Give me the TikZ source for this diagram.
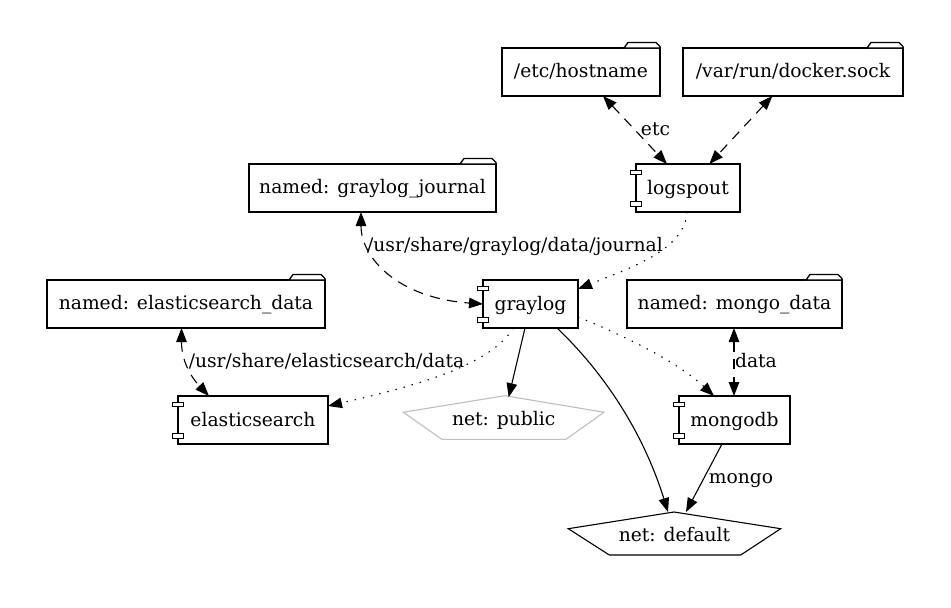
\documentclass[tikz,border=0pt]{standalone}
\usepackage{fontspec}
\setmainfont{DejaVu Serif}
\usetikzlibrary{arrows.meta,calc}
\tikzset{
  x=1pt,y=-1pt,
  txt/.style={inner sep=0pt,outer sep=0pt,text height=12pt,text depth=2pt,font=\fontsize{18.7}{21}\selectfont},
  vol/.style={txt,draw=black,line width=1.33pt,fill=white,line join=miter},
  comp/.style={txt,text height=14pt,draw=black,line width=1.33pt,fill=white},
  lbl/.style={inner sep=0pt,outer sep=0pt,anchor=base,font=\fontsize{18.7}{21}\selectfont},
  edge/.style={line width=1.1pt},
  both/.style={{Triangle[length=14pt,width=10.5pt]}-{Triangle[length=14pt,width=10.5pt]}},
  to/.style={-{Triangle[length=14pt,width=10.5pt]}},
  dash1/.style={dash pattern=on 10pt off 7.5pt},
  dot1/.style={dash pattern=on 1.4pt off 7pt},
  port/.style={draw=black,line width=1pt,fill=white},
}
\newcommand{\volnode}[6]{% name, left, right, top, bottom, text
  \node[vol,minimum width={#3-#2},minimum height={#5-#4}] (#1) at ({(#2+#3)/2},{(#4+#5)/2}) {#6};
  \draw[line width=1.33pt,fill=white,line join=round]
    ($(#1.north east)+(-36,0)$) -- ++(4,-5.5) -- ($(#1.north east)+(-4,-5.5)$) -- ($(#1.north east)+(0,-1.5)$) -- (#1.north east) -- cycle;
}
\newcommand{\compnode}[6]{%
  \node[comp,minimum width={#3-#2},minimum height={#5-#4}] (#1) at ({(#2+#3)/2},{(#4+#5)/2}) {#6};
  \draw[port] ($(#1.north west)+(-5.5,6)$) rectangle ++(11,4.8);
  \draw[port] ($(#1.south west)+(-5.5,-10.8)$) rectangle ++(11,4.8);
}
\newcommand{\netnode}[6]{% name,left,right,top,bottom,text
  \node[txt,text height=14pt,minimum width={#3-#2},minimum height={#5-#4}] (#1) at ({(#2+#3)/2},{(#4+#5)/2+1.5}) {#6};
}
\begin{document}
\begin{tikzpicture}
\useasboundingbox (0,0) rectangle (951,608);
\fill[white] (0,0) rectangle (951,608);

\volnode{host}{502}{660}{48}{96}{/etc/hostname}
\volnode{sock}{683}{903}{48}{96}{/var/run/docker.sock}
\volnode{journal}{249}{496}{164}{212}{named: graylog\_journal}
\volnode{esdata}{47}{325}{280}{328}{named: elasticsearch\_data}
\volnode{mgdata}{627}{842}{280}{328}{named: mongo\_data}

\compnode{logspout}{636}{740}{164}{212}{logspout}
\compnode{graylog}{483}{578}{280}{328}{graylog}
\compnode{es}{178}{328}{396}{444}{elasticsearch}
\compnode{mongodb}{679}{790}{396}{444}{mongodb}

\netnode{pub}{403.3}{604}{395.7}{439.3}{net: public}
\draw[draw=black!25,line width=1.1pt] ($(pub.north)+(1.3,-1.5)$) -- ($(pub.north east)+(0,15)$) -- ($(pub.south east)+(-38,-1.5)$) -- ($(pub.south west)+(38.4,-1.5)$) -- ($(pub.north west)+(0,15)$) -- cycle;
\netnode{def}{568.3}{780.7}{512}{555}{net: default}
\draw[draw=black,line width=1.1pt] ($(def.north)+(-0.5,-1.5)$) -- ($(def.north east)+(0,15.2)$) -- ($(def.south east)+(-40,-1.5)$) -- ($(def.south west)+(41,-1.5)$) -- ($(def.north west)+(0,15.2)$) -- cycle;

% edges
\draw[edge,both,dash1] ([xshift=-57]host.south east) -- ([xshift=-21]logspout.north);
\draw[edge,both,dash1] ([xshift=-130.7]sock.south east) -- ([xshift=73.3]logspout.north west);
\draw[edge,both,dash1] ([xshift=-11.5]journal.south) .. controls ($(journal.south)+(-11.5,46)$) and ($(graylog.west)+(-85,-6)$) .. (graylog.west);
\draw[edge,both,dash1] ([xshift=-4.5]esdata.south) .. controls ($(esdata.south)+(-4.5,32)$) and ($(es.north west)+(12,-20)$) .. ([xshift=31]es.north west);
\draw[edge,both,dash1] ([xshift=-0.5]mgdata.south) -- ([xshift=-0.5]mongodb.north);

\draw[edge,to,dot1] ([xshift=-1]logspout.south) .. controls ($(logspout.south)+(-3,38)$) and ($(graylog.north east)+(52,-12)$) .. ([yshift=-9]graylog.north east);
\draw[edge,to,dot1] ([xshift=30.5]graylog.south west) .. controls ($(graylog.south west)+(7,37)$) and ($(es.north east)+(92,-11)$) .. ([yshift=-10]es.north east);
\draw[edge,to,dot1] ([yshift=11]graylog.south east) .. controls ($(graylog.south east)+(25,-1)$) and ($(mongodb.north west)+(-8,-40)$) .. ([xshift=35]mongodb.north west);

\draw[edge,to] ([xshift=-5.5]graylog.south) -- ([xshift=5]pub.north);
\draw[edge,to] ([xshift=26.5]graylog.south) .. controls ($(graylog.south)+(79,50)$) and ($(def.north)+(-29,-74)$) .. ([xshift=-6.5,yshift=1.5]def.north);
\draw[edge,to] ([xshift=-12.5]mongodb.south) -- ([xshift=11.5,yshift=1.5]def.north);

% labels
\node[lbl] (letc) at (655.5,135) {etc};
\node[lbl] (ljournal) at (515,251) {/usr/share/graylog/data/journal};
\node[lbl] (les) at (326.5,367) {/usr/share/elasticsearch/data};
\node[lbl] (ldata) at (756,367) {data};
\node[lbl] (lmongo) at (741,483) {mongo};
\end{tikzpicture}
\end{document}
